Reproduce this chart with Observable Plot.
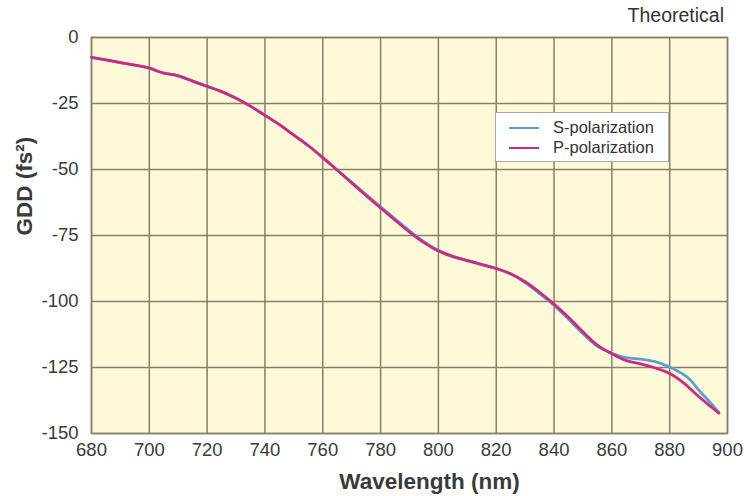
<!DOCTYPE html>
<html>
<head>
<meta charset="utf-8">
<script src="https://cdn.jsdelivr.net/npm/d3@7"></script>
<script src="https://cdn.jsdelivr.net/npm/@observablehq/plot@0.6"></script>
<style>
  html, body { margin: 0; padding: 0; background: #fff; }
  #wrap { position: relative; width: 748px; height: 496px; font-family: "Liberation Sans", Arial, sans-serif; }
  #theo { position: absolute; right: 24px; top: 4px; font-size: 19.5px; color: #333; }
  #legend { position: absolute; left: 495px; top: 112px; width: 174px; height: 50px; background: #fff; border: 1px solid #aaa; box-sizing: border-box; }
  .item { position: absolute; left: 13px; display: flex; align-items: center; font-size: 16.5px; color: #333; }
  .sw { width: 30px; height: 0; border-top: 2.5px solid; margin-right: 14px; }
</style>
</head>
<body>
<div id="wrap"></div>
<script>
const wavelengthS = [680,685,690,695,700,703,705,710,715,720,725,730,735,740,745,750,755,760,765,770,775,780,785,790,795,800,805,810,815,820,825,830,835,840,845,850,855,860,865,870,875,880,883,885,887,890,894,897];
const gddS = [-7.5,-8.5,-9.5,-10.5,-11.6,-12.8,-13.5,-14.5,-16.5,-18.5,-20.5,-23,-26,-29.5,-33,-37,-41,-45.5,-50.1,-54.8,-59.5,-64.1,-68.7,-73.2,-77.3,-80.6,-82.8,-84.4,-85.9,-87.5,-89.6,-92.8,-97,-101.5,-106.7,-112.2,-117,-119.6,-121.3,-121.8,-122.8,-124.8,-126.5,-127.8,-129.5,-133.5,-138.2,-142];
const wavelengthP = [680,685,690,695,700,703,705,710,715,720,725,730,735,740,745,750,755,760,765,770,775,780,785,790,795,800,805,810,815,820,825,830,835,840,845,850,855,860,865,870,875,880,885,890,894,897];
const gddP = [-7.5,-8.5,-9.5,-10.5,-11.6,-12.8,-13.5,-14.5,-16.5,-18.5,-20.5,-23,-26,-29.5,-33,-37,-41,-45.5,-50.3,-55.1,-59.9,-64.6,-69.2,-73.7,-77.7,-80.9,-83,-84.5,-86,-87.5,-89.5,-92.5,-96.5,-101,-106,-111.5,-116.5,-119.8,-122.4,-123.6,-125.2,-127.3,-131,-136,-139.6,-142.3];
const xTicks = [680,700,720,740,760,780,800,820,840,860,880,900];
const yTicks = [0,-25,-50,-75,-100,-125,-150];
const seriesNames = ["S-polarization", "P-polarization"];
const seriesColors = ["#5b9fd8", "#cc2a80"];

const dataS = wavelengthS.map((w, i) => ({w, v: gddS[i]}));
const dataP = wavelengthP.map((w, i) => ({w, v: gddP[i]}));
const gridColor = "#84816a";

const chart = Plot.plot({
  width: 748,
  height: 496,
  marginLeft: 91,
  marginRight: 21,
  marginTop: 37,
  marginBottom: 63,
  style: { fontFamily: "'Liberation Sans', Arial, sans-serif", background: "transparent" },
  x: { domain: [680, 900] },
  y: { domain: [-150, 0] },
  marks: [
    Plot.frame({ fill: "#fefad9", stroke: null }),
    Plot.gridX(xTicks, { stroke: gridColor, strokeOpacity: 1, strokeWidth: 1.5 }),
    Plot.gridY(yTicks, { stroke: gridColor, strokeOpacity: 1, strokeWidth: 1.5 }),
    Plot.frame({ stroke: gridColor, strokeWidth: 1.5 }),
    Plot.axisX(xTicks, { tickSize: 0, tickPadding: 9, fontSize: 18.5, fill: "#3a3a3a", label: null, tickFormat: d => String(d) }),
    Plot.axisY(yTicks, { tickSize: 0, tickPadding: 13, fontSize: 18.5, fill: "#3a3a3a", label: null, tickFormat: d => String(d) }),
    Plot.line(dataS, { x: "w", y: "v", stroke: seriesColors[0], strokeWidth: 2.8, curve: "catmull-rom" }),
    Plot.line(dataP, { x: "w", y: "v", stroke: seriesColors[1], strokeWidth: 2.8, curve: "catmull-rom" }),
    Plot.text(["Wavelength (nm)"], { frameAnchor: "bottom", dx: 20, dy: 48, fontSize: 22.5, fontWeight: "bold", fill: "#3a3a3a", lineAnchor: "middle" }),
    Plot.text(["GDD (fs²)"], { frameAnchor: "left", dx: -67, rotate: -90, fontSize: 22.5, fontWeight: "bold", fill: "#3a3a3a", lineAnchor: "middle" })
  ]
});

const wrap = document.getElementById("wrap");
wrap.appendChild(chart);
const theo = document.createElement("div");
theo.id = "theo";
theo.textContent = "Theoretical";
wrap.appendChild(theo);
const legend = document.createElement("div");
legend.id = "legend";
seriesNames.forEach((name, i) => {
  const it = document.createElement("div");
  it.className = "item";
  it.style.top = (i === 0 ? 5 : 25) + "px";
  const sw = document.createElement("span");
  sw.className = "sw";
  sw.style.borderTopColor = seriesColors[i];
  const lb = document.createElement("span");
  lb.textContent = name;
  it.appendChild(sw);
  it.appendChild(lb);
  legend.appendChild(it);
});
wrap.appendChild(legend);
</script>
</body>
</html>
